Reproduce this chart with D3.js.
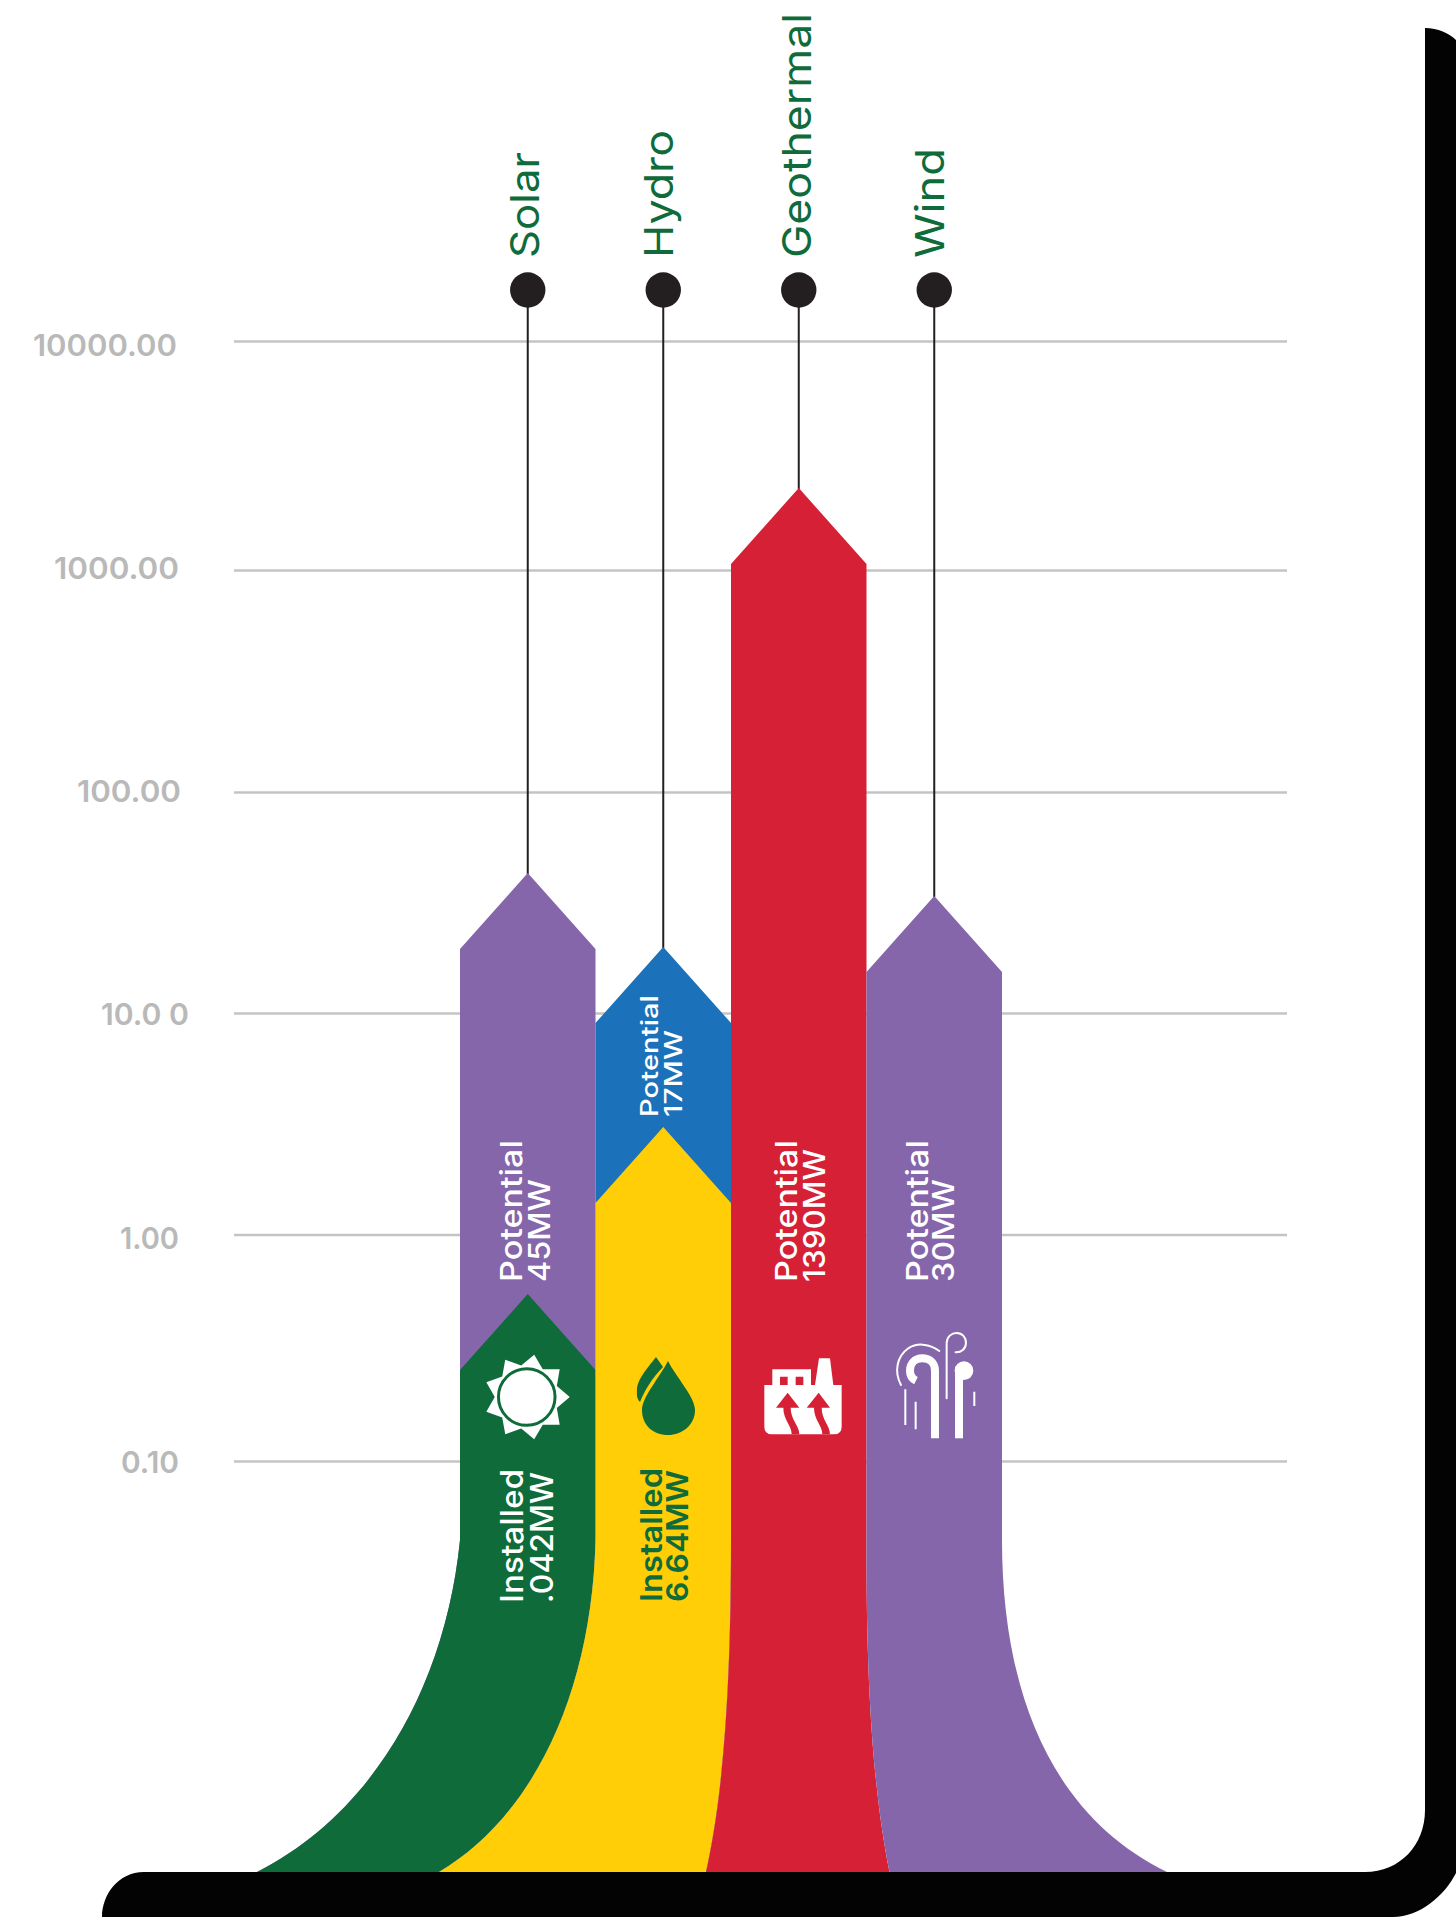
<!DOCTYPE html>
<html>
<head>
<meta charset="utf-8">
<script src="https://cdnjs.cloudflare.com/ajax/libs/d3/7.8.5/d3.min.js"></script>
<style>
  html, body { margin: 0; padding: 0; background: #fff; }
  svg { display: block; }
  text { font-family: Inter, "Open Sans", sans-serif; }
</style>
</head>
<body>
<svg id="chart" width="1456" height="1917"></svg>
<script>
// Renewable energy capacity by source, in megawatts.
const categories = ["Solar", "Hydro", "Geothermal", "Wind"];
const potentialMW = [45, 17, 1390, 30];
const installedMW = [0.042, 6.64, null, null];
const potentialLabels = ["45MW", "17MW", "1390MW", "30MW"];
const installedLabels = [".042MW", "6.64MW", null, null];

const axisTicks = [10000, 1000, 100, 10, 1, 0.1];
const tickLabels = ["10000.00", "1000.00", "100.00", "10.0 0", "1.00", "0.10"];

const GREEN = "#0f6b3a", YELLOW = "#ffce07", BLUE = "#1c71bb", RED = "#d62036", PURPLE = "#8566aa";
const INK = "#231f20";
const potentialColor = d3.scaleOrdinal(categories, [PURPLE, BLUE, RED, PURPLE]);
const installedColor = d3.scaleOrdinal(categories, [GREEN, YELLOW, GREEN, GREEN]);

const svg = d3.select("#chart");

// ---- scales ----
const x = d3.scaleBand().domain(categories).range([460, 1002]);

// Gridline ladder for the value axis.
const yAxisScale = d3.scaleLog()
  .domain([0.1, 1, 10, 100, 1000, 10000])
  .range([1461, 1234.5, 1013, 792, 570, 341]);

// The arrows are an illustrative ramp: they follow the stated megawatts in
// order, on their own log ramp rather than on the gridlines.
const arrowTip = d3.scaleLog()
  .domain([0.042, 6.64, 17, 30, 45, 1390])
  .range([1294, 1127, 947, 896, 873, 488]);

const HEAD = 76;          // arrowhead height
const FLARE_TOP = 1540;   // where the columns start to spread

// Bezier controls of the five column edges where they spread onto the floor.
const flareEdges = [
  [[445, 1690], [370, 1815], [257, 1872]],
  [[592, 1690], [535, 1815], [439, 1872]],
  [[731, 1700], [722, 1800], [706, 1872]],
  [[866, 1700], [875, 1800], [889.5, 1872]],
  [[1002, 1690], [1050, 1815], [1167, 1872]]
];

function arrowPath(i, tipY) {
  const left = x(categories[i]), right = left + x.bandwidth(), mid = left + x.bandwidth() / 2;
  const [la, lb, lc] = flareEdges[i], [ra, rb, rc] = flareEdges[i + 1];
  const p = d3.path();
  p.moveTo(mid, tipY);
  p.lineTo(left, tipY + HEAD);
  p.lineTo(left, FLARE_TOP);
  p.bezierCurveTo(la[0], la[1], lb[0], lb[1], lc[0], lc[1]);
  p.lineTo(rc[0], rc[1]);
  p.bezierCurveTo(rb[0], rb[1], ra[0], ra[1], right, FLARE_TOP);
  p.lineTo(right, tipY + HEAD);
  p.closePath();
  return p.toString();
}

// ---- frame drop shadow ----
svg.append("path")
  .attr("fill", "#030303")
  .attr("d", "M1425,28 C1438,28 1449,33 1456,40 L1456,1873 C1445,1895 1420,1917 1393,1917 L102,1917 " +
             "C102,1895 118,1872 144,1872 L1365,1872 C1400,1872 1425,1845 1425,1810 Z");

// ---- value axis and gridlines ----
const axis = svg.append("g")
  .attr("transform", "translate(234,0)")
  .call(d3.axisLeft(yAxisScale)
    .tickValues(axisTicks)
    .tickSize(-1053)
    .tickPadding(53)
    .tickFormat((d, i) => tickLabels[i]));
axis.select(".domain").remove();
axis.selectAll(".tick line").attr("stroke", "#c4c4c4").attr("stroke-width", 2.6);
axis.selectAll(".tick text")
  .attr("fill", "#b9b9b9")
  .attr("font-size", 30)
  .attr("font-weight", 600)
  .style("font-family", "Inter, sans-serif")
  .attr("textLength", (d, i) => [144, 125, 104, 88, 59, 58][i])
  .attr("lengthAdjust", "spacingAndGlyphs")
  .attr("dx", (d, i) => [-4, -2, 0, 8, -2, -2][i])
  .attr("dy", (d, i) => [4, -2, -1, 1, 3, 1][i] + 10.5);

// ---- stems and dots ----
const STEM_TOP = 290;
svg.selectAll(".stem").data(categories).join("line")
  .attr("class", "stem")
  .attr("x1", d => x(d) + x.bandwidth() / 2)
  .attr("x2", d => x(d) + x.bandwidth() / 2)
  .attr("y1", STEM_TOP)
  .attr("y2", (d, i) => arrowTip(potentialMW[i]) + 1)
  .attr("stroke", INK)
  .attr("stroke-width", 2);
svg.selectAll(".dot").data(categories).join("circle")
  .attr("class", "dot")
  .attr("cx", d => x(d) + x.bandwidth() / 2)
  .attr("cy", STEM_TOP)
  .attr("r", 17.7)
  .attr("fill", INK);

// ---- category names ----
const nameLayout = {
  Solar: { base: 539, len: 106 }, Hydro: { base: 673, len: 128 },
  Geothermal: { base: 811, len: 245 }, Wind: { base: 944, len: 110 }
};
svg.selectAll(".name").data(categories).join("text")
  .attr("class", "name")
  .attr("transform", d => `translate(${nameLayout[d].base},258) rotate(-90)`)
  .attr("fill", GREEN)
  .attr("font-size", 40)
  .attr("font-weight", 400)
  .attr("textLength", d => nameLayout[d].len)
  .attr("lengthAdjust", "spacingAndGlyphs")
  .text(d => d);

// ---- columns: potential behind, installed in front ----
// Each column is painted left to right so neighbours keep clean seams.
categories.forEach((c, i) => {
  svg.append("path")
    .attr("class", "potential")
    .attr("fill", potentialColor(c))
    .attr("d", arrowPath(i, arrowTip(potentialMW[i])));
  if (installedMW[i] != null) {
    svg.append("path")
      .attr("class", "installed")
      .attr("fill", installedColor(c))
      .attr("d", arrowPath(i, arrowTip(installedMW[i])));
  }
});

// ---- rotated two-line labels ----
function twoLine(line1, line2, opts) {
  const g = svg.append("g").attr("fill", opts.fill).attr("font-weight", opts.weight || 500);
  [[line1, opts.b1, opts.len1], [line2, opts.b2, opts.len2]].forEach(([t, b, len]) => {
    g.append("text")
      .attr("transform", `translate(${b},${opts.start}) rotate(-90)`)
      .attr("font-size", opts.size)
      .attr("textLength", len)
      .attr("lengthAdjust", "spacingAndGlyphs")
      .text(t);
  });
}
twoLine("Potential", potentialLabels[0], { fill: "#fff", start: 1282, size: 30, b1: 522, b2: 550, len1: 142, len2: 103 });
twoLine("Potential", potentialLabels[1], { fill: "#fff", start: 1117, size: 24, b1: 658, b2: 682, len1: 122, len2: 87 });
twoLine("Potential", potentialLabels[2], { fill: "#fff", start: 1282, size: 30, b1: 797, b2: 825, len1: 142, len2: 133 });
twoLine("Potential", potentialLabels[3], { fill: "#fff", start: 1282, size: 30, b1: 928, b2: 954, len1: 142, len2: 103 });
twoLine("Installed", installedLabels[0], { fill: "#fff", start: 1603, size: 31, b1: 523, b2: 553, len1: 134, len2: 131 });
twoLine("Installed", installedLabels[1], { fill: GREEN, start: 1602, size: 30, b1: 662, b2: 688, len1: 134, len2: 132, weight: 600 });

// ---- source icons ----
// Sun: nine-pointed star around a ringed disc.
const sun = svg.append("g").attr("transform", `translate(${x("Solar") + x.bandwidth() / 2 - 1},1397)`);
const starPoints = d3.range(18).map(k => [k * Math.PI / 9 + Math.PI / 2, k % 2 ? 32 : 43]);
sun.append("path").attr("fill", "#fff").attr("d", d3.lineRadial().curve(d3.curveLinearClosed)(starPoints));
sun.append("circle").attr("r", 28.3).attr("fill", "#fff").attr("stroke", GREEN).attr("stroke-width", 3);

// Water drops.
const drop = svg.append("g").attr("fill", GREEN);
drop.append("path").attr("d", "M668,1361 C676,1377 695,1397 695,1410 C695,1425 682,1435 668,1435 C653,1435 642,1425 642,1410 C642,1397 660,1377 668,1361 Z");
drop.append("path").attr("d", "M656,1357 L663,1367 C652,1378 645,1390 640,1402 C636,1398 637,1393 637,1388 C638,1378 650,1365 656,1357 Z");

// Geothermal plant with rising heat arrows.
const plant = svg.append("g").attr("transform", "translate(740,1100) scale(0.3333)");
plant.append("path").attr("fill", "#fff")
  .attr("d", "M73,855 H97 V808 H213 V855 H225 L237,775 H270 L280,855 H305 V980 Q305,1003 282,1003 H96 Q73,1003 73,980 Z");
plant.append("path").attr("fill", RED)
  .attr("d", "M120,830 H143 V855 H120 Z M167,830 H190 V855 H167 Z" +
    "M143,878 L178,923 H152 C152,960 178,975 178,1003 H155 C155,975 130,960 130,923 H108 Z" +
    "M236,878 L270,923 H245 C245,960 270,975 270,1003 H247 C247,975 222,960 222,923 H200 Z");

// Wind: two thick canes with thin swirl lines.
const wind = svg.append("g").attr("transform", "translate(740,1100) scale(0.3333)")
  .attr("fill", "none").attr("stroke", "#fff");
wind.append("path").attr("stroke-width", 24)
  .attr("d", "M585,1015 V812 C585,785 565,775 547,775 C525,775 510,790 510,812 C510,826 516,836 528,842");
wind.append("path").attr("stroke-width", 24).attr("d", "M657,1015 V800");
wind.append("circle").attr("cx", 672).attr("cy", 812).attr("r", 28).attr("fill", "#fff").attr("stroke", "none");
wind.append("path").attr("stroke-width", 6).attr("stroke-linecap", "round")
  .attr("d", "M483,855 C462,815 470,770 505,745 C535,725 575,735 598,753");
wind.append("path").attr("stroke-width", 6).attr("stroke-linecap", "round")
  .attr("d", "M620,895 V730 C620,710 635,699 650,699 C667,699 678,712 678,728 C678,747 663,758 647,757");
wind.append("path").attr("stroke-width", 6).attr("d", "M496,868 V975 M527,905 V988 M703,875 V918");
</script>
</body>
</html>
